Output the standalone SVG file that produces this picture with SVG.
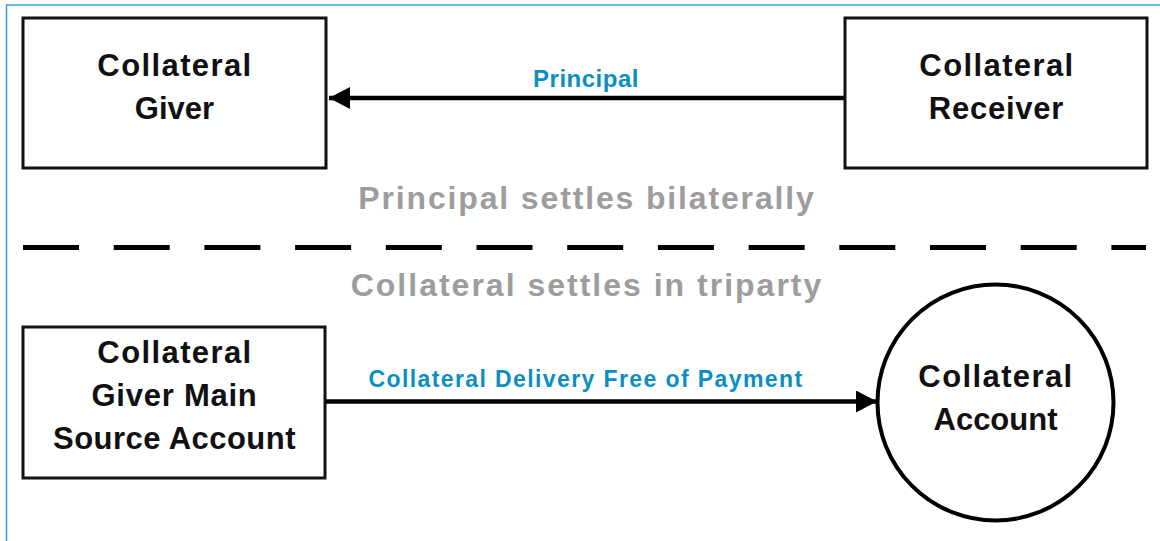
<svg xmlns="http://www.w3.org/2000/svg" width="1160" height="541" viewBox="0 0 1160 541">
<style>
.frame{stroke:#2aa3d2;stroke-width:1.5;fill:none}
.box{fill:#fff;stroke:#111;stroke-width:3}
.circ{fill:#fff;stroke:#000;stroke-width:4}
.node{font-family:"Liberation Sans",Arial,sans-serif;font-weight:bold;font-size:31px;fill:#111;text-anchor:middle}
.lbl{font-family:"Liberation Sans",Arial,sans-serif;font-weight:bold;fill:#0b8fc1;text-anchor:middle}
.sec{font-family:"Liberation Sans",Arial,sans-serif;font-weight:bold;font-size:32px;fill:#9d9d9d;text-anchor:middle}
.conn{stroke:#000;stroke-width:4.5;fill:none}
.dash{stroke:#000;stroke-width:5;stroke-dasharray:56 34.7;fill:none}
</style>
<defs>
<marker id="ah" markerUnits="userSpaceOnUse" markerWidth="22" markerHeight="24" refX="21" refY="11" orient="auto">
<path d="M0,0 L21,11 L0,22 z" fill="#000"/>
</marker>
</defs>
<rect width="1160" height="541" fill="#fff"/>
<path class="frame" d="M6.5,541 L6.5,5 L1160,5"/>

<g id="connectors">
<line class="conn" x1="845" y1="98" x2="329" y2="98" marker-end="url(#ah)"/>
<line class="conn" x1="326" y1="401.5" x2="877" y2="401.5" marker-end="url(#ah)"/>
<text class="lbl" x="586" y="87" font-size="24" letter-spacing="0.5">Principal</text>
<text class="lbl" x="586" y="387" font-size="23" letter-spacing="1.4">Collateral Delivery Free of Payment</text>
</g>

<g id="divider">
<line class="dash" x1="23" y1="247.5" x2="1146" y2="247.5"/>
<text class="sec" x="587" y="209" letter-spacing="1.85">Principal settles bilaterally</text>
<text class="sec" x="587" y="296" letter-spacing="2">Collateral settles in triparty</text>
</g>

<g id="collateral-giver">
<rect class="box" x="23" y="18" width="303" height="150"/>
<text class="node" x="175" y="76" letter-spacing="1.4">Collateral</text>
<text class="node" x="174.5" y="119" letter-spacing="0">Giver</text>
</g>

<g id="collateral-receiver">
<rect class="box" x="845" y="18" width="302" height="150"/>
<text class="node" x="997" y="76" letter-spacing="1.4">Collateral</text>
<text class="node" x="996.5" y="119" letter-spacing="0.75">Receiver</text>
</g>

<g id="giver-main-source-account">
<rect class="box" x="23" y="327" width="302" height="151"/>
<text class="node" x="175" y="363" letter-spacing="1.4">Collateral</text>
<text class="node" x="174.5" y="406" letter-spacing="0.75">Giver Main</text>
<text class="node" x="174.5" y="449" letter-spacing="0.45">Source Account</text>
</g>

<g id="collateral-account">
<circle class="circ" cx="995.5" cy="402.5" r="118"/>
<text class="node" x="996" y="387" letter-spacing="1.4">Collateral</text>
<text class="node" x="995.5" y="430" letter-spacing="0">Account</text>
</g>
</svg>
